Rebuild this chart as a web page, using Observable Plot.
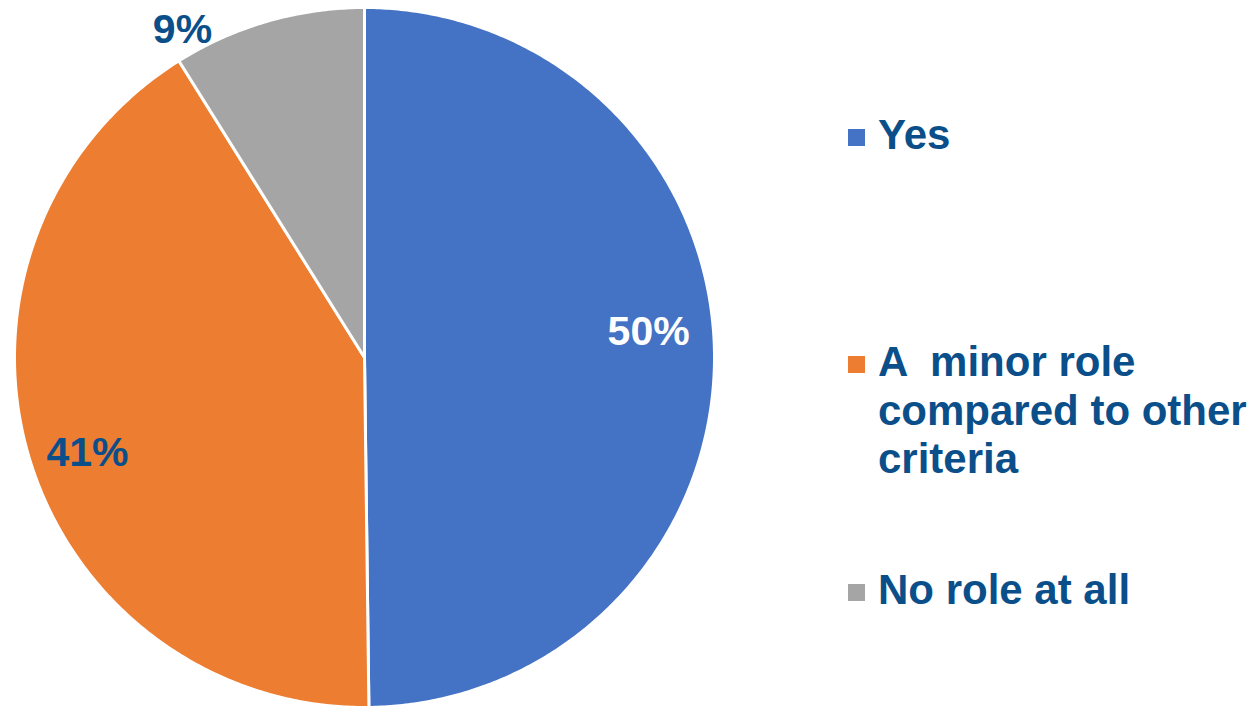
<!DOCTYPE html>
<html>
<head>
<meta charset="utf-8">
<script src="https://cdn.jsdelivr.net/npm/d3@7"></script>
<script src="https://cdn.jsdelivr.net/npm/@observablehq/plot@0.6"></script>
<style>
  html, body { margin: 0; padding: 0; background: #fff; }
  #wrap { position: relative; width: 1260px; height: 707px; overflow: hidden; }
  #legend { position: absolute; left: 848px; top: 0; font-family: "Liberation Sans", Arial, sans-serif; font-weight: bold; font-size: 42px; color: #0B4F8A; }
  .item { position: absolute; left: 0; display: flex; align-items: flex-start; white-space: pre; line-height: 48.5px; }
  .sw { width: 17px; height: 17px; margin-top: 18px; margin-right: 13px; flex: none; }
</style>
</head>
<body>
<div id="wrap"></div>
<script>
const categories = ["Yes", "A  minor role compared to other criteria", "No role at all"];
const legendLines = [["Yes"], ["A  minor role", "compared to other", "criteria"], ["No role at all"]];
const values = [49.8, 41.3, 8.9];
const labels = ["50%", "41%", "9%"];
const colors = ["#4472C4", "#ED7D31", "#A5A5A5"];
const labelColors = ["#ffffff", "#0B4F8A", "#0B4F8A"];

// label placement tweaks (angle offset in degrees, radius fraction)
const labelAngleAdj = [-4.7, -2.6, -13];
const labelRadius = [0.815, 0.837, 1.072];

const total = d3.sum(values);
const slices = [];
const pts = [];
let start = 0;
values.forEach((v, i) => {
  const a0 = start, a1 = start + v / total * 360;
  start = a1;
  slices.push({cat: categories[i], a0, a1});
  pts.push({cat: categories[i], x: 0, y: 0});
  const n = Math.max(2, Math.ceil((a1 - a0) / 0.5));
  for (let k = 0; k <= n; k++) {
    const t = (a0 + (a1 - a0) * k / n) * Math.PI / 180;
    pts.push({cat: categories[i], x: Math.sin(t), y: Math.cos(t)});
  }
  pts.push({cat: categories[i], x: 0, y: 0});
});

const labelData = slices.map((s, i) => {
  const t = ((s.a0 + s.a1) / 2 + labelAngleAdj[i]) * Math.PI / 180;
  return {label: labels[i], x: labelRadius[i] * Math.sin(t), y: labelRadius[i] * Math.cos(t), color: labelColors[i]};
});

const chart = Plot.plot({
  width: 1260,
  height: 707,
  margin: 0,
  x: {domain: [-1, 1], range: [14, 714], axis: null},
  y: {domain: [-1, 1], range: [707, 7], axis: null},
  color: {domain: categories, range: colors},
  style: {background: "#fff", overflow: "visible"},
  marks: [
    Plot.line(pts, {x: "x", y: "y", z: "cat", fill: "cat", stroke: "#fff", strokeWidth: 3, strokeLinejoin: "round", curve: "linear"}),
    Plot.text(labelData, {x: "x", y: "y", text: "label", fill: d => d.color, fontSize: 41, fontWeight: "bold", fontFamily: "Liberation Sans, Arial, sans-serif", textAnchor: "middle", lineAnchor: "middle"})
  ]
});

const wrap = document.getElementById("wrap");
wrap.appendChild(chart);

const legend = document.createElement("div");
legend.id = "legend";
const tops = [111, 338, 566];
legendLines.forEach((lines, i) => {
  const item = document.createElement("div");
  item.className = "item";
  item.style.top = tops[i] + "px";
  const sw = document.createElement("div");
  sw.className = "sw";
  sw.style.background = colors[i];
  const txt = document.createElement("div");
  txt.textContent = lines.join("\n");
  item.appendChild(sw);
  item.appendChild(txt);
  legend.appendChild(item);
});
wrap.appendChild(legend);
</script>
</body>
</html>
